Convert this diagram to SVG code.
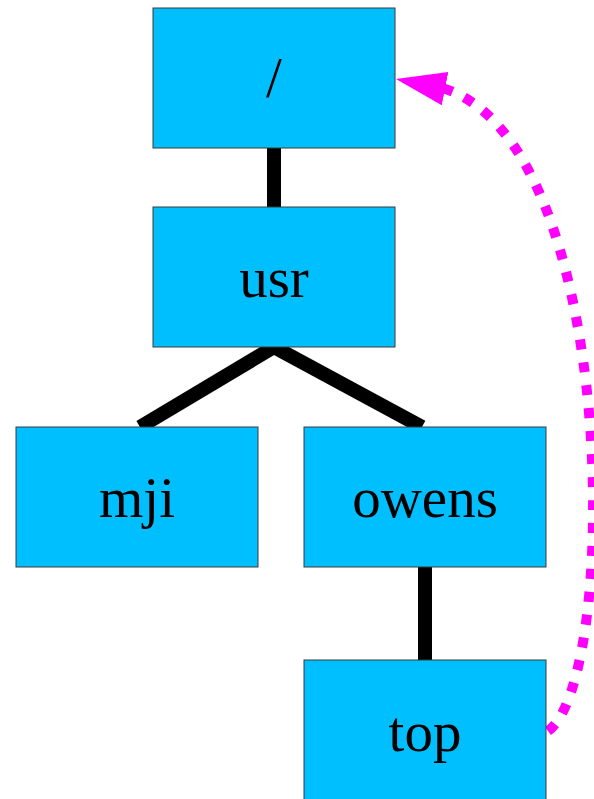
<svg xmlns="http://www.w3.org/2000/svg" width="594" height="799" viewBox="0 0 594 799">
<style>
.box{fill:#00BFFF;stroke:#3a3a3a;stroke-width:1}
.lbl{font-family:"Liberation Serif",serif;font-size:57px;fill:#000;text-anchor:middle}
.edge{stroke:#000;stroke-width:14;fill:none}
.link{stroke:#FF00FF;stroke-width:10;stroke-dasharray:10 13;fill:none}
</style>
<defs>
<marker id="ah" markerUnits="userSpaceOnUse" markerWidth="52" markerHeight="36" refX="50" refY="17" orient="auto">
<path d="M0,0 L50,17 L0,34 Z" fill="#FF00FF"/>
</marker>
</defs>
<g id="connectors">
<line class="edge" x1="274" y1="148" x2="274" y2="207"/>
<line class="edge" x1="274" y1="347" x2="140" y2="427"/>
<line class="edge" x1="274" y1="347" x2="422" y2="427"/>
<line class="edge" x1="425" y1="567" x2="425" y2="660"/>
<path class="link" d="M548,731 C620,680 620,140 442,88"/>
<path d="M442,88 L396,79" stroke="none" fill="none" marker-end="url(#ah)"/>
</g>
<g id="root"><rect class="box" x="153" y="8" width="242" height="140"/><text class="lbl" x="274" y="97">/</text></g>
<g id="usr"><rect class="box" x="153" y="207" width="242" height="140"/><text class="lbl" x="274" y="297">usr</text></g>
<g id="mji"><rect class="box" x="16" y="427" width="242" height="140"/><text class="lbl" x="137" y="517">mji</text></g>
<g id="owens"><rect class="box" x="304" y="427" width="242" height="140"/><text class="lbl" x="425" y="517">owens</text></g>
<g id="top"><rect class="box" x="304" y="660" width="242" height="140"/><text class="lbl" x="425" y="751">top</text></g>
</svg>
